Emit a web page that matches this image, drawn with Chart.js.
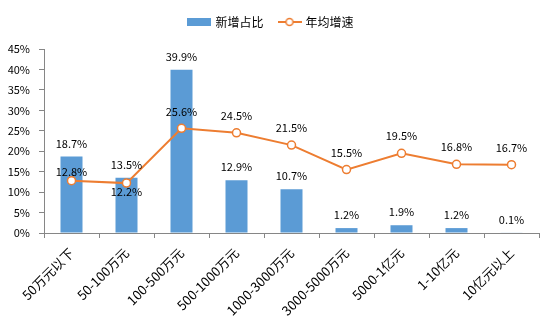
<!DOCTYPE html>
<html>
<head>
<meta charset="utf-8">
<script src="https://cdn.jsdelivr.net/npm/chart.js@4/dist/chart.umd.min.js"></script>
<style>
  html, body { margin: 0; padding: 0; background: #fff; }
  #wrap { width: 554px; height: 323px; }
</style>
</head>
<body>
<div id="wrap"><canvas id="mixChart"></canvas></div>
<script>
// categories and series
const categories = ['50万元以下', '50-100万元', '100-500万元', '500-1000万元', '1000-3000万元', '3000-5000万元', '5000-1亿元', '1-10亿元', '10亿元以上'];
const newShare = [18.7, 13.5, 39.9, 12.9, 10.7, 1.2, 1.9, 1.2, 0.1];
const annualGrowth = [12.8, 12.2, 25.6, 24.5, 21.5, 15.5, 19.5, 16.8, 16.7];
const yTicks = [0, 5, 10, 15, 20, 25, 30, 35, 40, 45];

const FONT = '"Noto Sans CJK SC", "Microsoft YaHei", sans-serif';
const BLUE = '#5B9BD5';
const ORANGE = '#ED7D31';
const AXIS = '#868686';

// legend swatches
function swatch(kind) {
  const c = document.createElement('canvas');
  c.width = 24; c.height = 10;
  const g = c.getContext('2d');
  if (kind === 'bar') {
    g.fillStyle = BLUE;
    g.fillRect(0, 1, 24, 8);
  } else {
    g.strokeStyle = ORANGE; g.lineWidth = 2;
    g.beginPath(); g.moveTo(0, 5); g.lineTo(24, 5); g.stroke();
    g.fillStyle = '#fff'; g.lineWidth = 1.5;
    g.beginPath(); g.arc(12, 5, 3.5, 0, Math.PI * 2); g.fill(); g.stroke();
  }
  return c;
}

// value labels: bar labels sit above the bar, line labels above the point
// (second point's label goes underneath so it clears the bar label)
const lineLabelShift = [-9, 9, -17, -17, -17, -17, -17, -17, -17];
const valueLabels = {
  id: 'valueLabels',
  afterDatasetsDraw(chart) {
    const ctx = chart.ctx;
    ctx.save();
    ctx.font = '11px ' + FONT;
    ctx.fillStyle = '#000';
    ctx.textAlign = 'center';
    ctx.textBaseline = 'middle';
    chart.data.datasets.forEach((ds, di) => {
      const meta = chart.getDatasetMeta(di);
      meta.data.forEach((el, i) => {
        const txt = ds.data[i].toFixed(1) + '%';
        const dy = ds.type === 'line' ? lineLabelShift[i] : -13;
        ctx.fillText(txt, el.x, el.y + dy);
      });
    });
    ctx.restore();
  }
};

const chart = new Chart(document.getElementById('mixChart'), {
  data: {
    labels: categories,
    datasets: [
      {
        type: 'line',
        label: '年均增速',
        data: annualGrowth,
        borderColor: ORANGE,
        borderWidth: 2,
        pointRadius: 4,
        pointBackgroundColor: '#fff',
        pointBorderColor: ORANGE,
        pointBorderWidth: 1.5,
        tension: 0,
        order: 0
      },
      {
        type: 'bar',
        label: '新增占比',
        data: newShare,
        backgroundColor: BLUE,
        barPercentage: 0.4,
        categoryPercentage: 1,
        order: 1
      }
    ]
  },
  options: {
    responsive: true,
    maintainAspectRatio: false,
    animation: false,
    layout: { padding: { left: 4, right: 15, top: 0, bottom: 0 } },
    plugins: {
      tooltip: { enabled: false },
      legend: {
        position: 'top',
        labels: {
          usePointStyle: true,
          pointStyleWidth: 20,
          font: { size: 12, family: FONT },
          color: '#000',
          padding: 16,
          generateLabels() {
            return [
              { text: '新增占比', pointStyle: swatch('bar'), datasetIndex: 1, lineWidth: 0, strokeStyle: 'transparent', fillStyle: BLUE },
              { text: '年均增速', pointStyle: swatch('line'), datasetIndex: 0, lineWidth: 0, strokeStyle: 'transparent', fillStyle: ORANGE }
            ];
          }
        }
      }
    },
    scales: {
      x: {
        offset: true,
        afterFit(scale) { scale.height = 90; },
        grid: { display: true, drawOnChartArea: false, offset: true, color: AXIS, tickLength: 5 },
        border: { color: AXIS },
        ticks: {
          font: { size: 13, family: FONT },
          color: '#000',
          maxRotation: 45,
          minRotation: 45,
          padding: 7
        }
      },
      y: {
        min: 0,
        max: 45,
        afterBuildTicks(scale) { scale.ticks = yTicks.map(v => ({ value: v })); },
        afterFit(scale) { scale.width = 40; },
        grid: { display: true, drawOnChartArea: false, color: AXIS, tickLength: 5 },
        border: { color: AXIS },
        ticks: {
          font: { size: 11, family: FONT },
          color: '#000',
          padding: 9,
          callback: v => v + '%'
        }
      }
    }
  },
  plugins: [valueLabels]
});

// leave a little more room under the legend
const baseFit = chart.legend.fit;
chart.legend.fit = function () {
  baseFit.call(this);
  this.height += 11;
};
chart.update();
</script>
</body>
</html>
